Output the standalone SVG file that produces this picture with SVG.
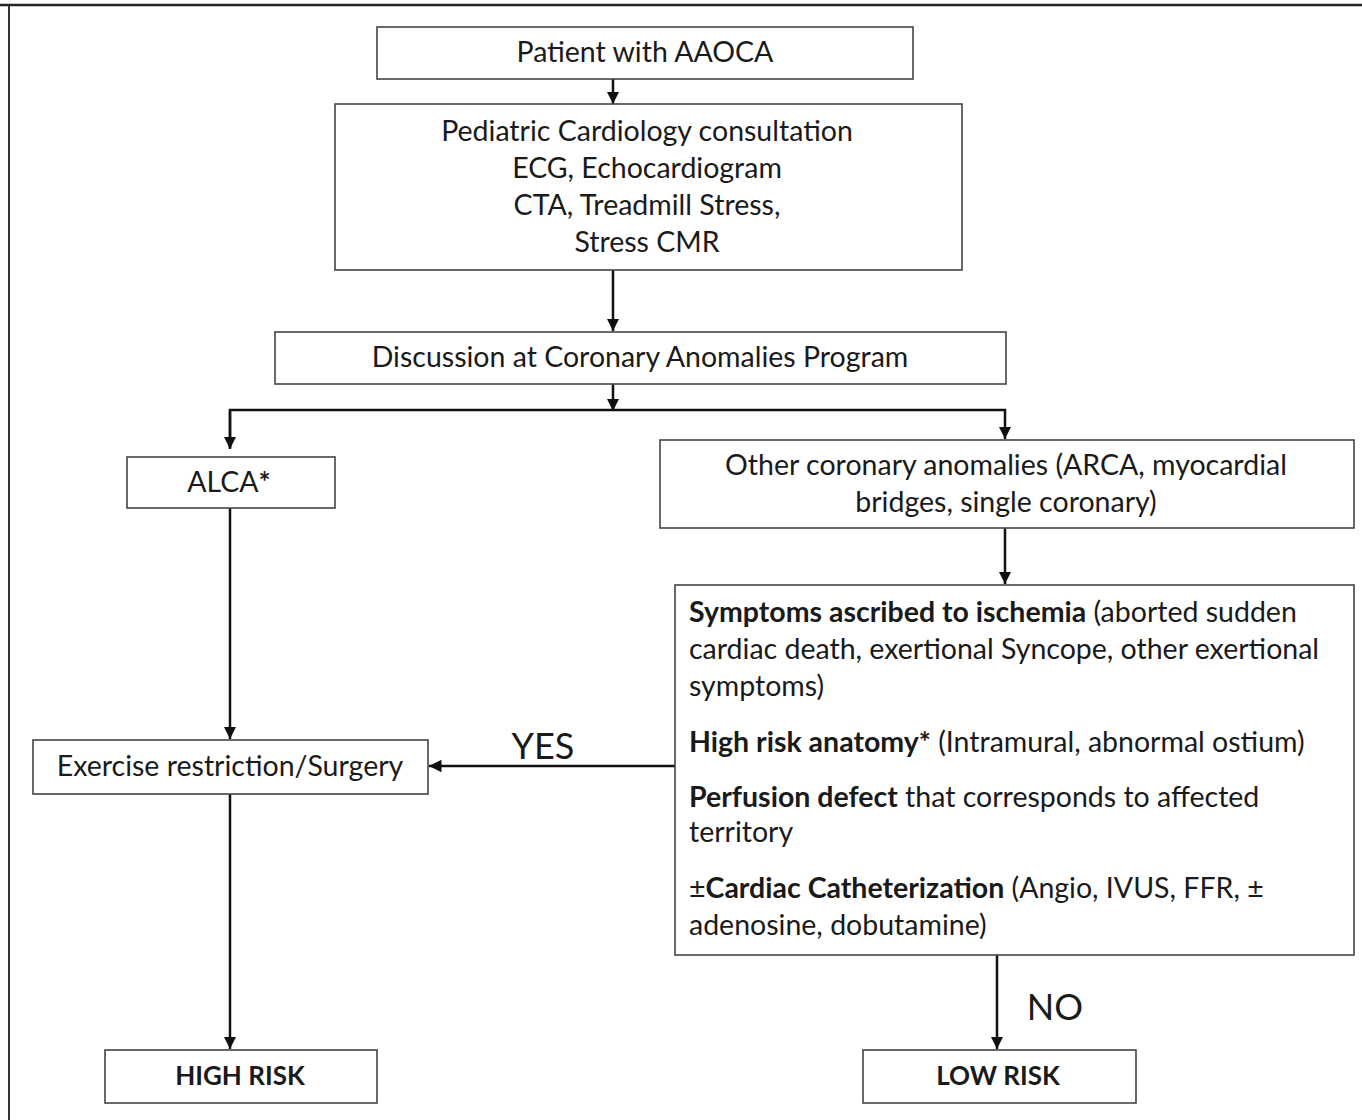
<svg xmlns="http://www.w3.org/2000/svg" width="1362" height="1120" viewBox="0 0 1362 1120">
<defs>
<marker id="ah" viewBox="0 0 10 10" refX="10" refY="5" markerWidth="5" markerHeight="5" markerUnits="strokeWidth" orient="auto">
<path d="M0,0 L10,5 L0,10 z" fill="#111"/>
</marker>
<style>
.box{fill:#fff;stroke:#444;stroke-width:1.6}
.t{font-family:Lato,"Open Sans","Liberation Sans",sans-serif;font-size:28.5px;fill:#1a1a1a}
.c{text-anchor:middle}
.b{font-weight:bold}
.r{font-size:26px}
.edge{stroke:#111;stroke-width:2.5;fill:none}
.lbl{font-family:Lato,"Open Sans","Liberation Sans",sans-serif;font-size:36px;fill:#1a1a1a;text-anchor:middle}
</style>
</defs>
<rect width="1362" height="1120" fill="#fff"/>
<g id="frame">
<line x1="0" y1="5" x2="1362" y2="5" stroke="#222" stroke-width="2.5"/>
<line x1="9" y1="5" x2="9" y2="1120" stroke="#333" stroke-width="2"/>
</g>
<g id="connectors">
<line class="edge" x1="613" y1="79" x2="613" y2="104" marker-end="url(#ah)"/>
<line class="edge" x1="613" y1="270" x2="613" y2="331" marker-end="url(#ah)"/>
<line class="edge" x1="613" y1="384" x2="613" y2="411" marker-end="url(#ah)"/>
<polyline class="edge" points="230,448 230,410 1005,410 1005,439" marker-end="url(#ah)"/>
<line class="edge" x1="230" y1="410" x2="230" y2="449" marker-end="url(#ah)"/>
<line class="edge" x1="1005" y1="528" x2="1005" y2="584" marker-end="url(#ah)"/>
<line class="edge" x1="230" y1="508" x2="230" y2="739" marker-end="url(#ah)"/>
<line class="edge" x1="675" y1="766" x2="429" y2="766" marker-end="url(#ah)"/>
<line class="edge" x1="230" y1="794" x2="230" y2="1049" marker-end="url(#ah)"/>
<line class="edge" x1="997" y1="955" x2="997" y2="1049" marker-end="url(#ah)"/>
<text class="lbl" x="543" y="759">YES</text>
<text class="lbl" x="1055" y="1020">NO</text>
</g>
<g id="n1">
<rect class="box" x="377" y="27" width="536" height="52"/>
<text class="t c" x="645" y="62">Patient with AAOCA</text>
</g>
<g id="n2">
<rect class="box" x="335" y="104" width="627" height="166"/>
<text class="t c" x="647" y="141">Pediatric Cardiology consultation</text>
<text class="t c" x="647" y="178">ECG, Echocardiogram</text>
<text class="t c" x="647" y="215">CTA, Treadmill Stress,</text>
<text class="t c" x="647" y="252">Stress CMR</text>
</g>
<g id="n3">
<rect class="box" x="275" y="332" width="731" height="52"/>
<text class="t c" x="640" y="367">Discussion at Coronary Anomalies Program</text>
</g>
<g id="n4">
<rect class="box" x="127" y="457" width="208" height="51"/>
<text class="t c" x="229" y="492">ALCA<tspan class="b">*</tspan></text>
</g>
<g id="n5">
<rect class="box" x="660" y="440" width="694" height="88"/>
<text class="t c" x="1006" y="475">Other coronary anomalies (ARCA, myocardial</text>
<text class="t c" x="1006" y="512">bridges, single coronary)</text>
</g>
<g id="n6">
<rect class="box" x="675" y="585" width="679" height="370"/>
<text class="t" x="689" y="622"><tspan class="b">Symptoms ascribed to ischemia</tspan> (aborted sudden</text>
<text class="t" x="689" y="659">cardiac death, exertional Syncope, other exertional</text>
<text class="t" x="689" y="696">symptoms)</text>
<text class="t" x="689" y="752"><tspan class="b">High risk anatomy*</tspan> (Intramural, abnormal ostium)</text>
<text class="t" x="689" y="807"><tspan class="b">Perfusion defect</tspan> that corresponds to affected</text>
<text class="t" x="689" y="842">territory</text>
<text class="t" x="689" y="898">±<tspan class="b">Cardiac Catheterization</tspan> (Angio, IVUS, FFR, ±</text>
<text class="t" x="689" y="935">adenosine, dobutamine)</text>
</g>
<g id="n7">
<rect class="box" x="33" y="740" width="395" height="54"/>
<text class="t c" x="230" y="776">Exercise restriction/Surgery</text>
</g>
<g id="n8">
<rect class="box" x="105" y="1050" width="272" height="53"/>
<text class="t c b r" x="240" y="1085">HIGH RISK</text>
</g>
<g id="n9">
<rect class="box" x="863" y="1050" width="273" height="53"/>
<text class="t c b r" x="998" y="1085">LOW RISK</text>
</g>
</svg>
